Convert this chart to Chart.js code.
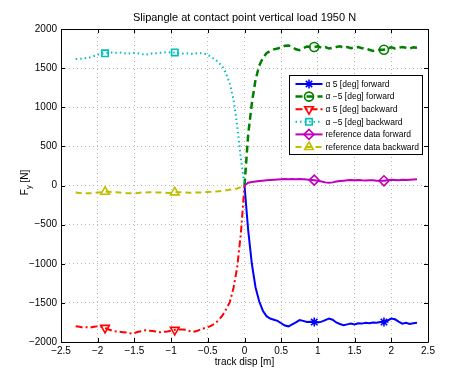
<!DOCTYPE html>
<html>
<head>
<meta charset="utf-8">
<script src="https://cdn.jsdelivr.net/npm/chart.js@4/dist/chart.umd.min.js"></script>
<style>
  html, body { margin: 0; padding: 0; background: #fff; }
  #wrap { width: 474px; height: 375px; position: relative; }
</style>
</head>
<body>
<div id="wrap"><canvas id="c" width="474" height="375"></canvas></div>
<script>
// ---------- data ----------
const chartTitle = 'Slipangle at contact point vertical load 1950 N';
const xAxisTitle = 'track disp [m]';
const yAxisTitleMain = 'F';
const yAxisTitleSub = 'y';
const yAxisTitleUnit = ' [N]';

const xTickValues = [-2.5, -2, -1.5, -1, -0.5, 0, 0.5, 1, 1.5, 2, 2.5];
const yTickValues = [-2000, -1500, -1000, -500, 0, 500, 1000, 1500, 2000];

const seriesLabels = [
  'α 5 [deg] forward',
  'α −5 [deg] forward',
  'α 5 [deg] backward',
  'α −5 [deg] backward',
  'reference data forward',
  'reference data backward'
];

const fwdDisp = [0, 0.05, 0.1, 0.15, 0.2, 0.25, 0.3, 0.35, 0.4, 0.45, 0.5, 0.55, 0.6, 0.65, 0.7, 0.75,
  0.8, 0.85, 0.9, 0.95, 1.0, 1.05, 1.1, 1.15, 1.2, 1.25, 1.3, 1.35, 1.4, 1.45, 1.5, 1.55,
  1.6, 1.65, 1.7, 1.75, 1.8, 1.85, 1.9, 1.95, 2.0, 2.05, 2.1, 2.15, 2.2, 2.25, 2.3, 2.35];

const bwdDisp = [-2.3, -2.25, -2.2, -2.15, -2.1, -2.05, -2.0, -1.95, -1.9, -1.85, -1.8, -1.75, -1.7, -1.65,
  -1.6, -1.55, -1.5, -1.45, -1.4, -1.35, -1.3, -1.25, -1.2, -1.15, -1.1, -1.05, -1.0, -0.95, -0.9, -0.85,
  -0.8, -0.75, -0.7, -0.65, -0.6, -0.55, -0.5, -0.45, -0.4, -0.35, -0.3, -0.25, -0.2, -0.15, -0.1, -0.05, 0];

const alpha5Fwd = [0, -570, -1000, -1300, -1480, -1600, -1670, -1700, -1715, -1730, -1760, -1790, -1800, -1775, -1750, -1720,
  -1730, -1745, -1740, -1745, -1750, -1740, -1720, -1700, -1715, -1750, -1770, -1785, -1775, -1765, -1775, -1760,
  -1765, -1755, -1760, -1750, -1755, -1745, -1745, -1725, -1700, -1710, -1740, -1765, -1755, -1770, -1760, -1755];

const alphaNeg5Fwd = [0, 650, 1050, 1350, 1530, 1630, 1690, 1720, 1740, 1750, 1765, 1785, 1790, 1770, 1740, 1730,
  1755, 1775, 1770, 1770, 1780, 1760, 1770, 1750, 1760, 1770, 1780, 1760, 1770, 1755, 1765, 1770,
  1755, 1750, 1735, 1720, 1730, 1735, 1735, 1755, 1765, 1750, 1760, 1770, 1760, 1750, 1765, 1760];

const refFwd = [0, 35, 45, 52, 58, 62, 66, 70, 74, 78, 80, 82, 80, 84, 80, 84,
  80, 76, 74, 68, 60, 50, 40, 34, 40, 50, 58, 62, 66, 70, 68, 70,
  66, 64, 68, 66, 62, 60, 60, 66, 72, 70, 66, 72, 70, 74, 78, 80];

const alpha5Bwd = [-1800, -1805, -1815, -1810, -1815, -1805, -1800, -1805, -1820, -1840, -1855, -1865, -1870, -1875,
  -1880, -1890, -1885, -1870, -1860, -1850, -1855, -1860, -1865, -1875, -1870, -1865, -1855, -1845, -1840, -1840,
  -1845, -1860, -1870, -1860, -1840, -1825, -1810, -1790, -1760, -1720, -1660, -1580, -1490, -1310, -1050, -620, 0];

const alphaNeg5Bwd = [1615, 1618, 1622, 1630, 1640, 1655, 1670, 1685, 1690, 1700, 1700, 1695, 1700, 1690,
  1685, 1690, 1695, 1690, 1680, 1670, 1680, 1690, 1690, 1695, 1700, 1705, 1700, 1700, 1690, 1685,
  1690, 1685, 1680, 1690, 1690, 1685, 1670, 1640, 1610, 1570, 1520, 1430, 1300, 1100, 770, 350, 0];

const refBwd = [-90, -95, -98, -100, -100, -95, -90, -85, -80, -80, -82, -85, -90, -95,
  -98, -100, -100, -95, -90, -88, -85, -85, -88, -90, -92, -95, -92, -88, -85, -88,
  -90, -92, -92, -90, -88, -85, -82, -80, -76, -72, -68, -62, -55, -48, -38, -20, 0];

const fwdMarkerDisp = [0.95, 1.9];
const bwdMarkerDisp = [-1.9, -0.95];

// ---------- build datasets ----------
function pts(xs, ys) { return xs.map((x, i) => ({ x: x, y: ys[i] })); }

const styles = [
  { color: '#0000ff', dash: [], width: 2, marker: 'star', rot: 0, r: 4.5 },
  { color: '#008000', dash: [7, 4], width: 2.5, marker: 'circle', rot: 0, r: 4.5 },
  { color: '#ff0000', dash: [7, 3, 2, 3], width: 2, marker: 'triangle', rot: 180, r: 5 },
  { color: '#00bfbf', dash: [1.5, 3], width: 2, marker: 'rect', rot: 0, r: 4.5 },
  { color: '#bf00bf', dash: [], width: 2, marker: 'rectRot', rot: 0, r: 5 },
  { color: '#bfbf00', dash: [6, 4], width: 2, marker: 'triangle', rot: 0, r: 5 }
];
const seriesData = [
  pts(fwdDisp, alpha5Fwd),
  pts(fwdDisp, alphaNeg5Fwd),
  pts(bwdDisp, alpha5Bwd),
  pts(bwdDisp, alphaNeg5Bwd),
  pts(fwdDisp, refFwd),
  pts(bwdDisp, refBwd)
];
const seriesMarkers = [fwdMarkerDisp, fwdMarkerDisp, bwdMarkerDisp, bwdMarkerDisp, fwdMarkerDisp, bwdMarkerDisp];

const datasets = seriesData.map((d, i) => {
  const s = styles[i];
  const marks = seriesMarkers[i];
  return {
    label: seriesLabels[i],
    data: d,
    borderColor: s.color,
    backgroundColor: s.color,
    borderWidth: s.width,
    borderDash: s.dash,
    tension: 0,
    fill: false,
    order: -i,
    pointStyle: s.marker,
    pointRotation: s.rot,
    pointBorderColor: s.color,
    pointBackgroundColor: 'rgba(0,0,0,0)',
    pointBorderWidth: 1.6,
    pointRadius: (ctx) => (ctx.raw && marks.indexOf(ctx.raw.x) >= 0) ? s.r : 0,
    pointHoverRadius: 0,
    pointHitRadius: 0
  };
});

function fmt(v) {
  return v < 0 ? '\u2212' + String(Math.abs(v)) : String(v);
}

const FONT = '"Liberation Sans", Arial, Helvetica, sans-serif';

// ---------- custom frame / legend / y title plugin ----------
const framePlugin = {
  id: 'matlabFrame',
  afterDatasetsDraw(chart) {
    const ctx = chart.ctx;
    const a = chart.chartArea;
    const xs = chart.scales.x, ys = chart.scales.y;
    ctx.save();
    ctx.strokeStyle = '#000';
    ctx.lineWidth = 1;
    ctx.setLineDash([]);
    ctx.beginPath();
    ctx.rect(Math.round(a.left) + 0.5, Math.round(a.top) + 0.5,
             Math.round(a.right - a.left), Math.round(a.bottom - a.top));
    ctx.stroke();
    const tl = 4;
    ctx.beginPath();
    xTickValues.forEach(v => {
      const px = Math.round(xs.getPixelForValue(v)) + 0.5;
      ctx.moveTo(px, a.bottom); ctx.lineTo(px, a.bottom - tl);
      ctx.moveTo(px, a.top); ctx.lineTo(px, a.top + tl);
    });
    yTickValues.forEach(v => {
      const py = Math.round(ys.getPixelForValue(v)) + 0.5;
      ctx.moveTo(a.left, py); ctx.lineTo(a.left + tl, py);
      ctx.moveTo(a.right, py); ctx.lineTo(a.right - tl, py);
    });
    ctx.stroke();
    ctx.restore();
  },
  afterDraw(chart) {
    const ctx = chart.ctx;
    const a = chart.chartArea;
    // ---- legend box ----
    const w = 133, h = 79;
    const left = Math.round(a.right - 6 - w) + 0.5;
    const top = Math.round(a.top + 46) + 0.5;
    ctx.save();
    ctx.fillStyle = '#fff';
    ctx.fillRect(left, top, w, h);
    ctx.strokeStyle = '#000';
    ctx.lineWidth = 1;
    ctx.setLineDash([]);
    ctx.strokeRect(left, top, w, h);
    // pick a font size so the longest label fits inside the box
    let fs = 9.5;
    const avail = w - 36 - 3;
    for (; fs > 6; fs -= 0.25) {
      ctx.font = fs + 'px ' + FONT;
      const maxW = Math.max.apply(null, chart.data.datasets.map(d => ctx.measureText(d.label).width));
      if (maxW <= avail) break;
    }
    ctx.font = fs + 'px ' + FONT;
    ctx.textBaseline = 'middle';
    ctx.textAlign = 'left';
    chart.data.datasets.forEach((ds, i) => {
      const s = styles[i];
      const y = top + 8.5 + i * 12.6;
      ctx.strokeStyle = s.color;
      ctx.lineWidth = s.width;
      ctx.setLineDash(s.dash);
      ctx.beginPath();
      ctx.moveTo(left + 6, y);
      ctx.lineTo(left + 33, y);
      ctx.stroke();
      ctx.setLineDash([]);
      ctx.lineWidth = 1.6;
      ctx.fillStyle = 'rgba(0,0,0,0)';
      Chart.helpers.drawPoint(ctx, { pointStyle: s.marker, rotation: s.rot, radius: s.r, borderWidth: 1.6 }, left + 19.5, y);
      ctx.fillStyle = '#000';
      ctx.fillText(ds.label, left + 36, y + 0.5);
    });
    ctx.restore();
    // ---- y axis title with subscript ----
    ctx.save();
    const cx = 24, cy = (a.top + a.bottom) / 2 - 3;
    ctx.translate(cx, cy);
    ctx.rotate(-Math.PI / 2);
    ctx.fillStyle = '#000';
    ctx.textBaseline = 'alphabetic';
    ctx.textAlign = 'left';
    ctx.font = '10px ' + FONT;
    const wF = ctx.measureText(yAxisTitleMain).width;
    const wU = ctx.measureText(yAxisTitleUnit).width;
    ctx.font = '7.5px ' + FONT;
    const wS = ctx.measureText(yAxisTitleSub).width;
    const total = wF + wS + wU;
    let x0 = -total / 2;
    ctx.font = '10px ' + FONT;
    ctx.fillText(yAxisTitleMain, x0, 3.5);
    ctx.font = '7.5px ' + FONT;
    ctx.fillText(yAxisTitleSub, x0 + wF, 6.5);
    ctx.font = '10px ' + FONT;
    ctx.fillText(yAxisTitleUnit, x0 + wF + wS, 3.5);
    ctx.restore();
  }
};

new Chart(document.getElementById('c'), {
  type: 'line',
  data: { datasets: datasets },
  plugins: [framePlugin],
  options: {
    responsive: false,
    animation: false,
    devicePixelRatio: 1,
    layout: { padding: { left: 0, right: 46, top: 0, bottom: 0 } },
    plugins: {
      legend: { display: false },
      tooltip: { enabled: false },
      title: {
        display: true,
        text: chartTitle,
        fullSize: false,
        color: '#000',
        font: { family: FONT, size: 11, weight: 'normal', lineHeight: 1.2 },
        padding: { top: 11, bottom: 4.8 }
      }
    },
    scales: {
      x: {
        type: 'linear',
        min: -2.5, max: 2.5,
        afterBuildTicks: (s) => { s.ticks = xTickValues.map(v => ({ value: v })); },
        afterFit: (s) => { s.height = 33; },
        grid: { color: '#b8b8b8', lineWidth: 1, drawTicks: false },
        border: { display: false, dash: [1, 3] },
        ticks: {
          color: '#000', padding: 3, maxRotation: 0, autoSkip: false,
          font: { family: FONT, size: 10 },
          callback: (v) => fmt(v)
        },
        title: {
          display: true, text: xAxisTitle, color: '#000',
          font: { family: FONT, size: 10 },
          padding: { top: 0, bottom: 7 }
        }
      },
      y: {
        type: 'linear',
        min: -2000, max: 2000,
        afterBuildTicks: (s) => { s.ticks = yTickValues.map(v => ({ value: v })); },
        afterFit: (s) => { s.width = 61; },
        grid: { color: '#b8b8b8', lineWidth: 1, drawTicks: false },
        border: { display: false, dash: [1, 3] },
        ticks: {
          color: '#000', padding: 4, autoSkip: false,
          font: { family: FONT, size: 10 },
          callback: (v) => fmt(v)
        }
      }
    }
  }
});
</script>
</body>
</html>
